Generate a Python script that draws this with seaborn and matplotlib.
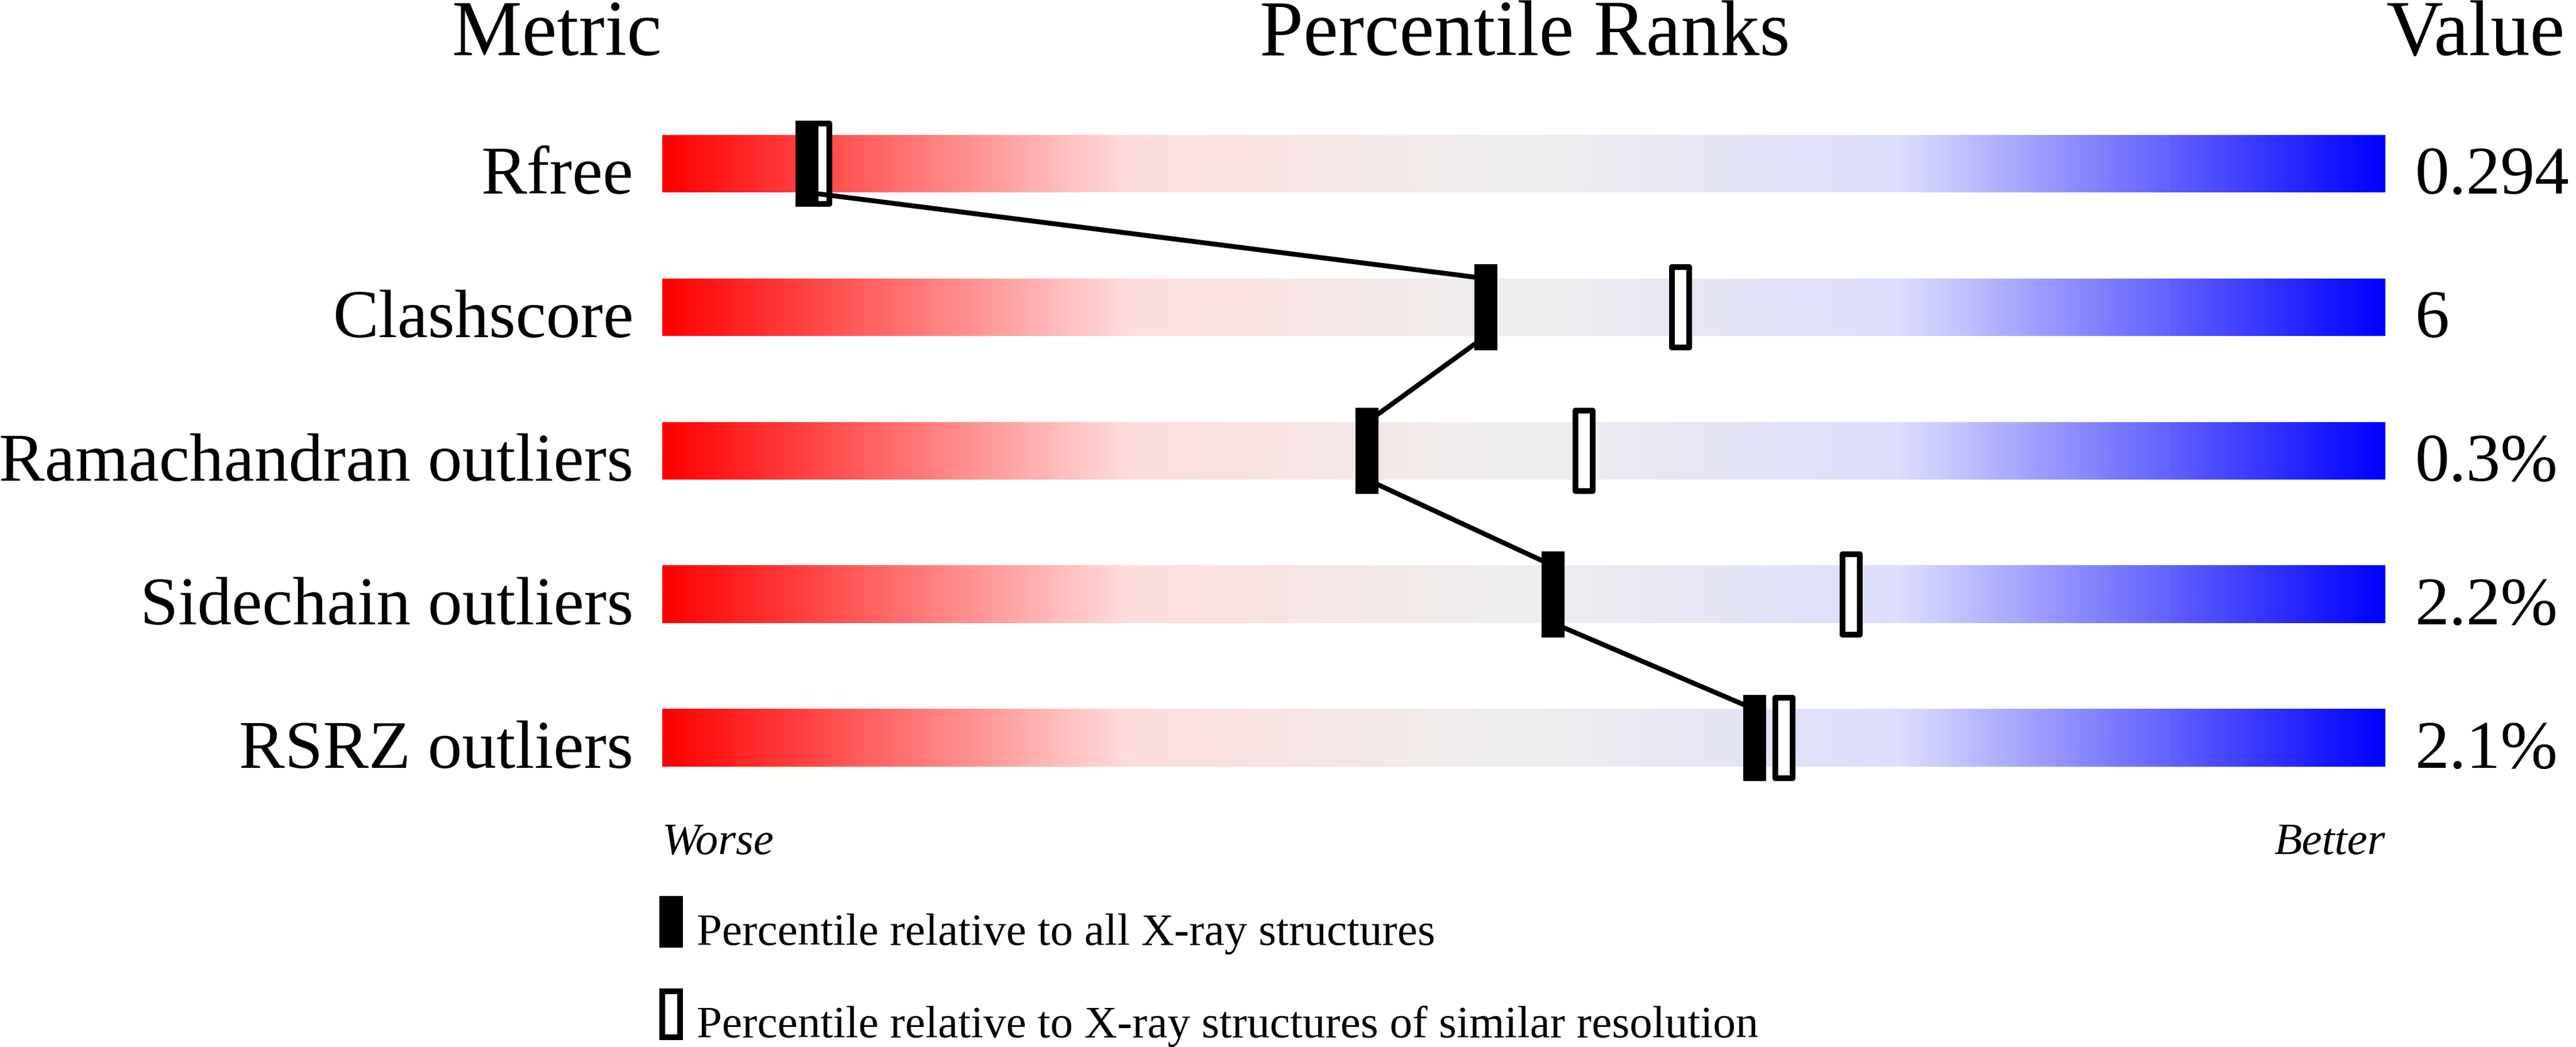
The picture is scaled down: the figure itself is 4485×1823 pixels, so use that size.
import numpy as np
import pandas as pd
import seaborn as sns
import matplotlib.pyplot as plt
import matplotlib.patches as mpatches
from matplotlib.colors import LinearSegmentedColormap
from matplotlib.legend_handler import HandlerPatch
from matplotlib.markers import MarkerStyle
from matplotlib.path import Path

# data
metrics = ["Rfree", "Clashscore", "Ramachandran outliers", "Sidechain outliers", "RSRZ outliers"]
values = ["0.294", "6", "0.3%", "2.2%", "2.1%"]
pct_all = [8.4, 47.8, 40.9, 51.7, 63.4]        # percentile vs all X-ray structures
pct_similar = [9.2, 59.1, 53.5, 69.0, 65.1]    # percentile vs similar resolution
legend_labels = ["Percentile relative to all X-ray structures",
                 "Percentile relative to X-ray structures of similar resolution"]

# worse -> better colour ramp
grad_stops = [0.0, 0.27, 0.5, 0.72, 1.0]
grad_colors = ["#ff0000", "#ffdddd", "#eeeeee", "#ddddff", "#0000ff"]

sns.set_style("white")
plt.rcParams["font.family"] = ["Liberation Serif", "DejaVu Serif"]
plt.rcParams["text.color"] = "black"

W, H = 4485, 1824
PT = 0.72  # points per pixel at dpi 100
fig = plt.figure(figsize=(W / 100, H / 100), dpi=100)
ax = fig.add_axes([1153 / W, 1 - 1411 / H, 3000 / W, 1250 / H])

df = pd.DataFrame({"metric": metrics, "value": values, "all": pct_all, "similar": pct_similar})
df["row"] = np.arange(len(df))
bar_half = 0.2

# gradient bars
cmap = LinearSegmentedColormap.from_list("worse_better", list(zip(grad_stops, grad_colors)))
grad = np.linspace(0, 1, 1000).reshape(1, -1)
for r in df["row"]:
    ax.imshow(grad, cmap=cmap, aspect="auto", interpolation="bilinear",
              extent=(0, 100, r + bar_half, r - bar_half), zorder=1)


def rect_marker(ratio):
    verts = [(-ratio / 2, -0.5), (ratio / 2, -0.5), (ratio / 2, 0.5), (-ratio / 2, 0.5), (-ratio / 2, -0.5)]
    codes = [Path.MOVETO, Path.LINETO, Path.LINETO, Path.LINETO, Path.CLOSEPOLY]
    return MarkerStyle(Path(verts, codes), joinstyle="miter")


# open markers (similar resolution)
sns.scatterplot(data=df, x="similar", y="row", ax=ax, marker=rect_marker(30 / 140),
                s=(140 * PT) ** 2, facecolor="white", edgecolor="black",
                linewidth=10 * PT, zorder=2, legend=False)

# connecting line: bottom of one bar to top of the next
line_x, line_y = [], []
for r, p in zip(df["row"], df["all"]):
    line_x += [p, p]
    line_y += [r - bar_half, r + bar_half]
line_df = pd.DataFrame({"x": line_x, "y": line_y})
sns.lineplot(data=line_df, x="x", y="y", ax=ax, sort=False, estimator=None,
             color="black", linewidth=8.5 * PT, zorder=3)

# filled markers (all structures)
sns.scatterplot(data=df, x="all", y="row", ax=ax, marker=rect_marker(40 / 150),
                s=(150 * PT) ** 2, color="black", edgecolor="none",
                linewidth=0, zorder=4, legend=False)

# row labels and values
for r, name, val in zip(df["row"], df["metric"], df["value"]):
    ax.text(-1.67, r + 0.204, name, ha="right", va="baseline", fontsize=86)
    ax.text(101.73, r + 0.204, val, ha="left", va="baseline", fontsize=86)

ax.text(0, 4.804, "Worse", style="italic", ha="left", va="baseline", fontsize=57)
ax.text(100, 4.804, "Better", style="italic", ha="right", va="baseline", fontsize=57)

# headers
head_y = 1 - 96 / H
fig.text(1152 / W, head_y, "Metric", ha="right", va="baseline", fontsize=98.6)
fig.text(2655 / W, head_y, "Percentile Ranks", ha="center", va="baseline", fontsize=98.6)
fig.text(4155 / W, head_y, "Value", ha="left", va="baseline", fontsize=98.6)


# legend with tall rectangle keys
def key_handler(x0, y0, w, h):
    def make(legend, orig_handle, xdescent, ydescent, width, height, fontsize):
        return mpatches.Rectangle((x0 * PT, y0 * PT), w * PT, h * PT)
    return HandlerPatch(patch_func=make)


filled_key = mpatches.Patch(facecolor="black", edgecolor="none", linewidth=0)
open_key = mpatches.Patch(facecolor="white", edgecolor="black", linewidth=10 * PT, joinstyle="miter")
ax.legend(handles=[filled_key, open_key], labels=legend_labels,
          handler_map={filled_key: key_handler(0, -6, 41, 90),
                       open_key: key_handler(5, -1, 31, 80)},
          loc="upper left", bbox_to_anchor=(1148 / W, 1 - 1589.6 / H),
          bbox_transform=fig.transFigure, frameon=False, borderpad=0,
          borderaxespad=0, fontsize=57, handlelength=0.518, handleheight=0.7,
          handletextpad=0.3, labelspacing=1.119)

ax.set_xlim(0, 100)
ax.set_ylim(4.5, -0.5)
ax.axis("off")

fig.savefig("out.png", dpi=100)
